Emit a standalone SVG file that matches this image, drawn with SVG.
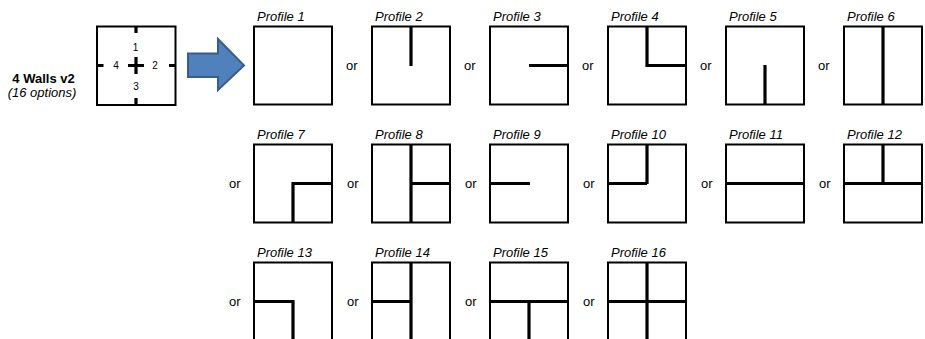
<svg xmlns="http://www.w3.org/2000/svg" width="925" height="339" viewBox="0 0 925 339">
<style>
text{font-family:"Liberation Sans",Arial,sans-serif;fill:#000}
.lbl{font-size:13px;font-style:italic}
.or{font-size:13px}
.num{font-size:10px;text-anchor:middle}
.box{fill:#fff;stroke:#000;stroke-width:2}
.w{stroke:#000;stroke-width:3.2;fill:none;stroke-linecap:butt}
</style>
<rect width="925" height="339" fill="#fff"/>
<g id="legend">
<text x="43.5" y="83" font-size="13" font-weight="bold" text-anchor="middle">4 Walls v2</text>
<text x="42" y="97" font-size="13" font-style="italic" text-anchor="middle">(16 options)</text>
<rect class="box" x="97" y="26.5" width="78.5" height="78.5"/>
<path class="w" d="M136 26.5V33M97 65.5H103.5M169 65.5H175.5M136 98V105M136 57V74M128 65.5H144"/>
<text class="num" x="135.5" y="51">1</text>
<text class="num" x="155" y="69">2</text>
<text class="num" x="136" y="90">3</text>
<text class="num" x="116" y="69">4</text>
</g>
<g id="arrow">
<path d="M188 53.5H218V39L244 65.5L218 90V77H188Z" fill="#4F81BD" stroke="#385D8A" stroke-width="2" stroke-linejoin="miter"/>
</g>
<g id="p1"><text class="lbl" x="257" y="21">Profile 1</text><rect class="box" x="254" y="26.5" width="78" height="78"/></g>
<g id="p2"><text class="lbl" x="375" y="21">Profile 2</text><rect class="box" x="372" y="26.5" width="78" height="78"/><path class="w" d="M411 26.5V66"/></g>
<g id="p3"><text class="lbl" x="493" y="21">Profile 3</text><rect class="box" x="490" y="26.5" width="78" height="78"/><path class="w" d="M529 65.5H568"/></g>
<g id="p4"><text class="lbl" x="611" y="21">Profile 4</text><rect class="box" x="608" y="26.5" width="78" height="78"/><path class="w" d="M647 26.5V65.5H686"/></g>
<g id="p5"><text class="lbl" x="729" y="21">Profile 5</text><rect class="box" x="726" y="26.5" width="78" height="78"/><path class="w" d="M765 65V104.5"/></g>
<g id="p6"><text class="lbl" x="847" y="21">Profile 6</text><rect class="box" x="844" y="26.5" width="78" height="78"/><path class="w" d="M883 26.5V104.5"/></g>

<g id="p7"><text class="lbl" x="257" y="139">Profile 7</text><rect class="box" x="254" y="144.5" width="78" height="78"/><path class="w" d="M332 183.5H293V222.5"/></g>
<g id="p8"><text class="lbl" x="375" y="139">Profile 8</text><rect class="box" x="372" y="144.5" width="78" height="78"/><path class="w" d="M411 144.5V222.5M411 183.5H450"/></g>
<g id="p9"><text class="lbl" x="493" y="139">Profile 9</text><rect class="box" x="490" y="144.5" width="78" height="78"/><path class="w" d="M490 183.5H530"/></g>
<g id="p10"><text class="lbl" x="611" y="139">Profile 10</text><rect class="box" x="608" y="144.5" width="78" height="78"/><path class="w" d="M647 144.5V184M608 183.5H647"/></g>
<g id="p11"><text class="lbl" x="729" y="139">Profile 11</text><rect class="box" x="726" y="144.5" width="78" height="78"/><path class="w" d="M726 183.5H804"/></g>
<g id="p12"><text class="lbl" x="847" y="139">Profile 12</text><rect class="box" x="844" y="144.5" width="78" height="78"/><path class="w" d="M883 144.5V184M844 183.5H922"/></g>

<g id="p13"><text class="lbl" x="257" y="257">Profile 13</text><rect class="box" x="254" y="262.5" width="78" height="78"/><path class="w" d="M254 301.5H293V340.5"/></g>
<g id="p14"><text class="lbl" x="375" y="257">Profile 14</text><rect class="box" x="372" y="262.5" width="78" height="78"/><path class="w" d="M411 262.5V340.5M372 301.5H411"/></g>
<g id="p15"><text class="lbl" x="493" y="257">Profile 15</text><rect class="box" x="490" y="262.5" width="78" height="78"/><path class="w" d="M490 301.5H568M529 301.5V340.5"/></g>
<g id="p16"><text class="lbl" x="611" y="257">Profile 16</text><rect class="box" x="608" y="262.5" width="78" height="78"/><path class="w" d="M647 262.5V340.5M608 301.5H686"/></g>

<g id="connectors">
<text class="or" x="346" y="70">or</text>
<text class="or" x="464" y="70">or</text>
<text class="or" x="582" y="70">or</text>
<text class="or" x="700" y="70">or</text>
<text class="or" x="818" y="70">or</text>
<text class="or" x="229" y="188">or</text>
<text class="or" x="347" y="188">or</text>
<text class="or" x="465" y="188">or</text>
<text class="or" x="583" y="188">or</text>
<text class="or" x="701" y="188">or</text>
<text class="or" x="819" y="188">or</text>
<text class="or" x="229" y="306">or</text>
<text class="or" x="347" y="306">or</text>
<text class="or" x="465" y="306">or</text>
<text class="or" x="583" y="306">or</text>
</g>
</svg>
